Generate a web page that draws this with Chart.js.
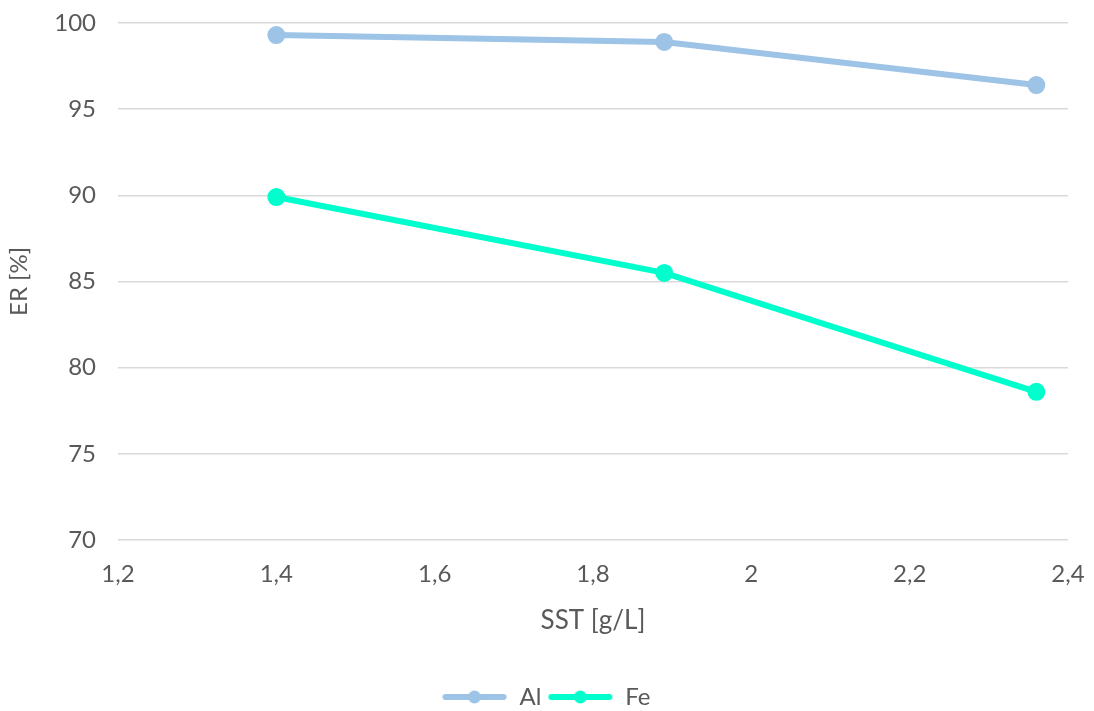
<!DOCTYPE html>
<html>
<head>
<meta charset="utf-8">
<script src="https://cdn.jsdelivr.net/npm/chart.js@4"></script>
<style>
  html, body { margin: 0; padding: 0; background: #fff; }
  #wrap { width: 1094px; height: 711px; }
</style>
</head>
<body>
<div id="wrap"><canvas id="myChart" width="1094" height="711"></canvas></div>
<script>
// values
const sst = [1.4, 1.89, 2.36];
const alValues = [99.3, 98.9, 96.4];
const feValues = [89.9, 85.5, 78.6];
const seriesNames = ['Al', 'Fe'];
const seriesColors = ['#9dc3e6', '#00ffcc'];

const textColor = '#595959';
const fontFamily = "'Lato', 'DejaVu Sans', sans-serif";

const toPoints = (xs, ys) => xs.map((x, i) => ({x: x, y: ys[i]}));

// line with a dot in the middle, for the legend
const legendIcon = (color) => {
  let c = document.createElement('canvas');
  c.width = 66;
  c.height = 14;
  let g = c.getContext('2d');
  g.strokeStyle = color;
  g.lineWidth = 6;
  g.lineCap = 'round';
  g.beginPath();
  g.moveTo(4, 7);
  g.lineTo(62, 7);
  g.stroke();
  g.fillStyle = color;
  g.beginPath();
  g.arc(33, 7, 6.5, 0, Math.PI * 2);
  g.fill();
  return c;
};

const fmt = (v) => Number(v.toFixed(1)).toString().replace('.', ',');

// legend sits centred on the whole picture, not on the padded box
const legendShift = {
  id: 'legendShift',
  afterLayout: (chart) => {
    chart.legend.left += 12;
    chart.legend.right += 12;
  }
};

let ctx = document.getElementById('myChart').getContext('2d');

let displayChart = new Chart(ctx, {
  type: 'line',
  data: {
    datasets: [{
      label: seriesNames[0],
      data: toPoints(sst, alValues),
      borderColor: seriesColors[0],
      backgroundColor: seriesColors[0],
      borderWidth: 6,
      pointRadius: 6,
      pointHoverRadius: 6,
      fill: false
    }, {
      label: seriesNames[1],
      data: toPoints(sst, feValues),
      borderColor: seriesColors[1],
      backgroundColor: seriesColors[1],
      borderWidth: 6,
      pointRadius: 6,
      pointHoverRadius: 6,
      fill: false
    }]
  },
  plugins: [legendShift],
  options: {
    responsive: false,
    animation: false,
    layout: {
      padding: {top: 23, right: 26, bottom: -8, left: 0}
    },
    plugins: {
      tooltip: {enabled: false},
      legend: {
        position: 'bottom',
        labels: {
          usePointStyle: true,
          pointStyleWidth: 66,
          boxHeight: 14,
          color: textColor,
          font: {family: fontFamily, size: 24},
          padding: 6,
          generateLabels: (chart) => chart.data.datasets.map((ds, i) => ({
            text: ds.label,
            fontColor: textColor,
            pointStyle: legendIcon(ds.borderColor),
            datasetIndex: i,
            hidden: false,
            lineWidth: 0
          }))
        }
      }
    },
    scales: {
      x: {
        type: 'linear',
        min: 1.2,
        max: 2.4,
        grid: {display: false},
        border: {display: false},
        ticks: {
          stepSize: 0.2,
          color: textColor,
          font: {family: fontFamily, size: 24},
          padding: 12,
          callback: (v) => fmt(v)
        },
        title: {
          display: true,
          text: 'SST [g/L]',
          color: textColor,
          font: {family: fontFamily, size: 26},
          padding: {top: 6, bottom: 43}
        },
        afterFit: (scale) => {
          scale.height = 139;
          scale.paddingLeft = 0;
          scale.paddingRight = 0;
        }
      },
      y: {
        min: 70,
        max: 100,
        grid: {color: '#d9d9d9', lineWidth: 1.5, drawTicks: false},
        border: {display: false},
        ticks: {
          stepSize: 5,
          color: textColor,
          font: {family: fontFamily, size: 24},
          padding: 22
        },
        title: {
          display: true,
          text: 'ER [%]',
          color: textColor,
          font: {family: fontFamily, size: 24},
          padding: {top: 5, bottom: 10}
        },
        afterFit: (scale) => {
          scale.width = 118;
          scale.paddingTop = 0;
          scale.paddingBottom = 0;
        }
      }
    }
  }
});
</script>
</body>
</html>
